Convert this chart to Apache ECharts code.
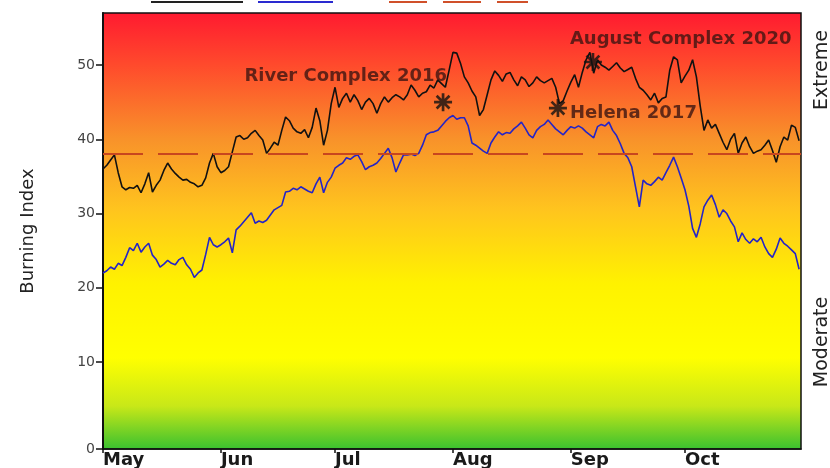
<!DOCTYPE html>
<html><head><meta charset="utf-8">
<script src="https://cdn.jsdelivr.net/npm/echarts@6/dist/echarts.min.js"></script>
<style>html,body{margin:0;padding:0;background:#fff}#c{width:830px;height:468px}</style>
</head><body><div id="c"></div>
<script>
// ---- data ----
const months = ['May', 'Jun', 'Jul', 'Aug', 'Sep', 'Oct'];
const monthStartDays = [0, 31, 61, 92, 123, 153]; // day index from May 1
const yTickValues = [-1.7, 10, 20, 30, 40, 50];
const yTickLabels = ['0', '10', '20', '30', '40', '50'];
const thresholdValue = 38;

// upper (black) burning index, daily from May 1 to Oct 31
const maxIndex = [
  36.0, 36.5, 37.2, 37.9, 35.5, 33.6, 33.2, 33.5, 33.4, 33.8,
  32.8, 34.0, 35.5, 32.9, 33.8, 34.5, 35.8, 36.8, 36.0, 35.4,
  34.9, 34.5, 34.6, 34.2, 34.0, 33.6, 33.8, 34.8, 36.8, 38.1,
  36.3, 35.5, 35.8, 36.3, 38.3, 40.3, 40.5, 40.0, 40.2, 40.8,
  41.2, 40.5, 39.9, 38.1, 38.8, 39.6, 39.2, 41.2, 43.0, 42.5,
  41.5, 41.0, 40.8, 41.3, 40.2, 41.6, 44.2, 42.5, 39.2, 41.2,
  44.8, 47.0, 44.3, 45.5, 46.2, 45.0, 46.0, 45.2, 44.0, 45.0,
  45.5, 44.8, 43.5, 44.8, 45.7, 45.0, 45.6, 46.0, 45.7, 45.3,
  46.0, 47.3, 46.6, 45.7, 46.2, 46.4, 47.3, 46.9, 48.0, 47.5,
  47.0, 49.3, 51.7, 51.6, 50.2,
  48.4, 47.6, 46.5, 45.7, 43.2, 44.0, 46.0,
  48.0, 49.2, 48.6, 47.8, 48.8, 49.0, 48.0, 47.2, 48.4, 48.0, 47.1,
  47.6, 48.4, 47.9, 47.6, 47.9, 48.2, 47.0, 44.8, 45.2, 46.5,
  47.7, 48.7, 47.0, 49.0, 50.7, 51.7, 48.9, 50.7, 50.0, 49.7, 49.3,
  49.8, 50.3, 49.6, 49.1, 49.4, 49.7, 48.2, 47.0, 46.6, 46.0, 45.3,
  46.2, 44.9, 45.5, 45.7, 49.3, 51.1, 50.7, 47.6, 48.5, 49.3, 50.7, 48.4,
  44.5, 41.2, 42.6, 41.5, 42.0, 40.8, 39.6, 38.6, 40.0, 40.8, 38.1, 39.5,
  40.3, 39.0, 38.1, 38.4, 38.6, 39.2, 39.9, 38.5, 36.9, 39.0, 40.3, 39.9, 41.9, 41.6, 39.8
];

// lower (blue) burning index, daily from May 1 to Oct 31
const avgIndex = [
  22.0, 22.3, 22.8, 22.5, 23.3, 23.0, 24.1, 25.4, 25.0, 26.0, 24.8,
  25.5, 26.0, 24.4, 23.8, 22.8, 23.2, 23.7, 23.3, 23.1, 23.8,
  24.1, 23.1, 22.5, 21.4, 22.0, 22.4, 24.5, 26.8, 25.8, 25.5,
  25.8, 26.2, 26.7, 24.7, 27.8, 28.3, 28.9, 29.5, 30.1, 28.7,
  29.0, 28.8, 29.1, 29.8, 30.5, 30.8, 31.1, 32.9, 33.0, 33.4,
  33.2, 33.6, 33.3, 33.0, 32.8, 34.0, 34.9, 32.8, 34.2, 34.9,
  36.1, 36.5, 36.8, 37.5, 37.3, 37.7, 37.9, 37.0, 35.9, 36.3,
  36.5, 36.8, 37.4, 38.1, 38.8, 37.5, 35.6, 36.8, 37.9, 37.9,
  38.0, 37.8, 38.1, 39.2, 40.6, 40.9, 41.0, 41.2, 41.8, 42.4,
  42.9, 43.2, 42.7, 42.9, 42.9, 41.8, 39.5, 39.2, 38.8, 38.4,
  38.1, 39.5, 40.3, 41.0, 40.6, 40.9, 40.8, 41.4, 41.8, 42.3,
  41.5, 40.6, 40.2, 41.2, 41.7, 42.0, 42.6, 42.0, 41.4, 41.0,
  40.6, 41.2, 41.7, 41.5, 41.8, 41.5, 41.0, 40.6, 40.2, 41.7,
  42.0, 41.8, 42.3, 41.2, 40.5, 39.4, 38.1, 37.5, 36.3, 33.6,
  30.9, 34.5, 34.0, 33.8, 34.3, 34.9, 34.5, 35.5, 36.5, 37.6,
  36.3, 34.8, 33.2, 31.0, 28.0, 26.8, 28.6, 30.9, 31.8, 32.5,
  31.2, 29.5, 30.5, 30.0, 29.0, 28.2, 26.2, 27.4, 26.5, 26.0,
  26.6, 26.2, 26.8, 25.5, 24.6, 24.1, 25.2, 26.7, 26.0, 25.6,
  25.1, 24.6, 22.5
];

// named fires (asterisks)
const fireNames = ['River Complex 2016', 'Helena 2017', 'August Complex 2020'];
const fireDays = [89.4, 119.6, 128.8];
const fireValues = [45.0, 44.2, 50.4];

// ---- label placement (style, not data) ----
const fireLabelStyles = [
  { position: [13, -17], align: 'right' },
  { position: [21, 14], align: 'left' },
  { position: [-14, -14], align: 'left' }
];

const chart = echarts.init(document.getElementById('c'), null, { renderer: 'canvas' });

const bg = new echarts.graphic.LinearGradient(0, 0, 0, 1, [
  { offset: 0.00, color: '#FF1A30' },
  { offset: 0.12, color: '#FF4A2C' },
  { offset: 0.29, color: '#F8922A' },
  { offset: 0.45, color: '#FFC41E' },
  { offset: 0.62, color: '#FFF200' },
  { offset: 0.79, color: '#FFFF00' },
  { offset: 0.90, color: '#C8E818' },
  { offset: 1.00, color: '#38C030' }
]);

const asterisk = 'path://M8.5,0 L11.5,0 L11.5,20 L8.5,20 Z M0,8.5 L20,8.5 L20,11.5 L0,11.5 Z M1.8,3.9 L3.9,1.8 L18.2,16.1 L16.1,18.2 Z M16.1,1.8 L18.2,3.9 L3.9,18.2 L1.8,16.1 Z';

const option = {
  animation: false,
  grid: {
    left: 103, right: 29, top: 13, bottom: 19,
    outerBoundsMode: 'none',
    show: true, backgroundColor: bg, borderColor: '#111', borderWidth: 1.5
  },
  xAxis: {
    type: 'value', min: 0, max: 183.5,
    axisLine: { show: true, onZero: false, lineStyle: { color: '#111', width: 1.5 } },
    axisTick: { show: true, customValues: monthStartDays, length: 4, lineStyle: { color: '#111', width: 1.5 } },
    axisLabel: {
      customValues: monthStartDays,
      formatter: v => months[monthStartDays.indexOf(v)],
      align: 'left', margin: 2,
      fontFamily: 'DejaVu Sans', fontWeight: 'bold', fontSize: 18, color: '#1a1a1a'
    },
    splitLine: { show: false }
  },
  yAxis: {
    type: 'value', min: -1.7, max: 57,
    name: 'Burning Index', nameLocation: 'middle', nameGap: 66,
    nameTextStyle: { fontFamily: 'DejaVu Sans', fontSize: 18, color: '#222' },
    axisLine: { show: true, onZero: false, lineStyle: { color: '#111', width: 2 } },
    axisTick: { show: true, customValues: yTickValues, length: 7, lineStyle: { color: '#111', width: 1.5 } },
    axisLabel: {
      customValues: yTickValues,
      formatter: v => yTickLabels[yTickValues.indexOf(v)],
      margin: 8, verticalAlign: 'middle', padding: [0, 0, 6, 0],
      fontFamily: 'DejaVu Sans', fontSize: 14, color: '#444'
    },
    splitLine: { show: false }
  },
  graphic: [
    { type: 'line', shape: { x1: 151, y1: 2, x2: 243, y2: 2 }, style: { stroke: '#222', lineWidth: 2 } },
    { type: 'line', shape: { x1: 258, y1: 2, x2: 333, y2: 2 }, style: { stroke: '#2a2ad0', lineWidth: 2 } },
    { type: 'line', shape: { x1: 389, y1: 2, x2: 528, y2: 2 }, style: { stroke: '#d0502a', lineWidth: 2, lineDash: [38, 16] } },
    { type: 'text', x: 822, y: 70, rotation: Math.PI / 2,
      style: { text: 'Extreme', font: '19px "DejaVu Sans"', fill: '#222', align: 'center', verticalAlign: 'middle' } },
    { type: 'text', x: 822, y: 342, rotation: Math.PI / 2,
      style: { text: 'Moderate', font: '19px "DejaVu Sans"', fill: '#222', align: 'center', verticalAlign: 'middle' } }
  ],
  series: [
    {
      name: 'Maximum', type: 'line', showSymbol: false, symbol: 'none', z: 3,
      data: maxIndex.map((v, i) => [i, v]),
      lineStyle: { color: '#111', width: 1.6 }
    },
    {
      name: 'Average', type: 'line', showSymbol: false, symbol: 'none', z: 3,
      data: avgIndex.map((v, i) => [i, v]),
      lineStyle: { color: '#2424c8', width: 1.6 },
      markLine: {
        silent: true, symbol: 'none', label: { show: false },
        lineStyle: { color: '#c8461e', type: [40, 15], width: 2 },
        data: [{ yAxis: thresholdValue }]
      }
    },
    {
      name: 'Fires', type: 'scatter', z: 5,
      symbol: asterisk, symbolSize: 18,
      itemStyle: { color: '#111' },
      data: fireNames.map((n, i) => ({
        name: n, value: [fireDays[i], fireValues[i]],
        label: {
          show: true, formatter: n,
          position: fireLabelStyles[i].position, align: fireLabelStyles[i].align, verticalAlign: 'middle',
          fontFamily: 'DejaVu Sans', fontWeight: 'bold', fontSize: 18, color: '#3d1512'
        }
      }))
    }
  ]
};
chart.setOption(option);
</script></body></html>
